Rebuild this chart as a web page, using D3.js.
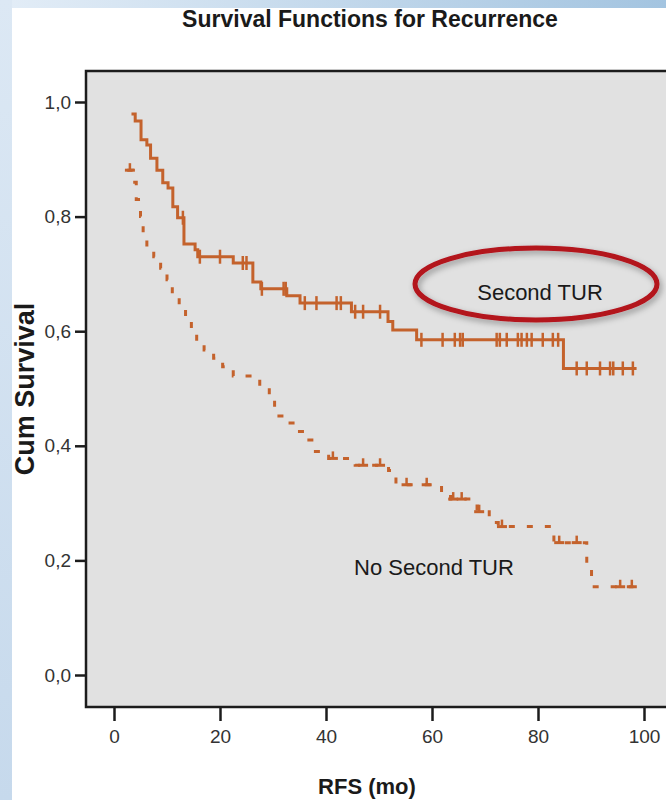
<!DOCTYPE html>
<html>
<head>
<meta charset="utf-8">
<script src="https://cdn.jsdelivr.net/npm/d3@7"></script>
<style>
  body { margin: 0; background: #fff; }
  svg { display: block; font-family: "Liberation Sans", Arial, sans-serif; }
</style>
</head>
<body>
<div class="chart"></div>
<script>
// Second TUR (solid): step times and survival after each step
var secondTurTimes = [3.3, 4.0, 5.1, 6.2, 6.9, 8.1, 9.2, 10.2, 11.1, 12.0, 13.2, 15.3, 15.8, 22.5, 26.2, 27.7, 32.6, 35.1, 44.8, 51.7, 52.6, 57.1, 84.8, 98.6];
var secondTurSurv  = [0.979, 0.967, 0.934, 0.925, 0.902, 0.881, 0.859, 0.850, 0.817, 0.798, 0.752, 0.742, 0.730, 0.719, 0.686, 0.674, 0.662, 0.649, 0.634, 0.617, 0.602, 0.585, 0.535, 0.535];
var secondTurCensored = [13.0, 16.2, 20.0, 24.3, 25.0, 27.9, 32.0, 32.4, 36.0, 38.2, 42.0, 42.8, 45.5, 47.0, 50.2, 58.0, 62.0, 64.3, 65.3, 65.8, 72.2, 72.8, 74.1, 76.2, 76.9, 77.9, 78.8, 80.9, 82.8, 83.8, 87.3, 89.2, 91.7, 93.6, 94.2, 96.0, 97.9];

// No second TUR (dashed)
var noTurTimes = [2.5, 3.5, 4.2, 5.0, 5.5, 6.2, 7.5, 8.8, 10.0, 11.0, 12.3, 13.5, 14.6, 15.6, 17.0, 18.8, 20.5, 22.5, 27.5, 29.3, 30.3, 32.0, 34.5, 36.4, 38.0, 40.5, 45.5, 51.8, 53.2, 61.8, 63.5, 68.5, 70.8, 72.5, 83.0, 89.2, 90.1, 98.0];
var noTurSurv  = [0.881, 0.86, 0.83, 0.80, 0.77, 0.745, 0.73, 0.71, 0.69, 0.665, 0.645, 0.62, 0.60, 0.58, 0.567, 0.553, 0.538, 0.522, 0.503, 0.48, 0.452, 0.44, 0.425, 0.41, 0.39, 0.378, 0.366, 0.357, 0.332, 0.315, 0.307, 0.285, 0.266, 0.259, 0.231, 0.19, 0.154, 0.154];
var noTurCensored = [3.0, 41.3, 47.0, 50.2, 55.2, 59.0, 64.0, 65.6, 68.9, 73.2, 84.0, 87.3, 95.5, 97.7];

var xTicks = [0, 20, 40, 60, 80, 100];
var yTicks = [0, 0.2, 0.4, 0.6, 0.8, 1.0];

(function() {
  var width = 666, height = 800,
    frame = {left: 86, top: 71, right: 690, bottom: 707},
    lineColor = "#c4622c";

  var svg = d3.select(".chart").append("svg")
    .attr("width", width)
    .attr("height", height);

  var defs = svg.append("defs");
  var topGrad = defs.append("linearGradient").attr("id", "topGrad");
  topGrad.append("stop").attr("offset", "0%").attr("stop-color", "#e3edf7");
  topGrad.append("stop").attr("offset", "100%").attr("stop-color", "#a3c4e0");
  var leftGrad = defs.append("linearGradient").attr("id", "leftGrad")
    .attr("x1", 0).attr("y1", 0).attr("x2", 0).attr("y2", 1);
  leftGrad.append("stop").attr("offset", "0%").attr("stop-color", "#dce8f4");
  leftGrad.append("stop").attr("offset", "100%").attr("stop-color", "#c6d9ec");
  var shadow = defs.append("filter").attr("id", "shadow")
    .attr("x", "-20%").attr("y", "-40%").attr("width", "140%").attr("height", "180%");
  shadow.append("feDropShadow").attr("dx", 2).attr("dy", 3)
    .attr("stdDeviation", 3).attr("flood-color", "#000").attr("flood-opacity", 0.35);

  // slide background
  svg.append("rect").attr("width", width).attr("height", 8).attr("fill", "url(#topGrad)");
  svg.append("rect").attr("y", 0).attr("width", 12).attr("height", height).attr("fill", "url(#leftGrad)");

  var x = d3.scaleLinear().domain([0, 100]).range([114, 644]);
  var y = d3.scaleLinear().domain([0, 1]).range([675, 102]);

  // plot area
  svg.append("rect")
    .attr("x", frame.left).attr("y", frame.top)
    .attr("width", frame.right - frame.left).attr("height", frame.bottom - frame.top)
    .attr("fill", "#e1e1e1")
    .attr("stroke", "#1c1c1c")
    .attr("stroke-width", 2.5);

  var fmt = function(d) { return d3.format(".1f")(d).replace(".", ","); };

  var yAxis = svg.append("g")
    .attr("transform", "translate(" + frame.left + ",0)")
    .call(d3.axisLeft(y).tickValues(yTicks).tickFormat(fmt).tickSize(11).tickPadding(4));
  var xAxis = svg.append("g")
    .attr("transform", "translate(0," + frame.bottom + ")")
    .call(d3.axisBottom(x).tickValues(xTicks).tickSize(14).tickPadding(9));
  [xAxis, yAxis].forEach(function(a) {
    a.select(".domain").remove();
    a.selectAll("line").attr("stroke", "#1c1c1c").attr("stroke-width", 2.5);
    a.selectAll("text").attr("fill", "#333").style("font-size", "19px")
      .style("font-family", "'Liberation Sans', Arial, sans-serif");
  });

  // step lines
  function steps(times, surv) {
    return times.map(function(t, i) { return {t: t, s: surv[i]}; });
  }
  function survAt(times, surv, t) {
    var i = d3.bisectRight(times, t) - 1;
    return surv[Math.max(i, 0)];
  }
  var line = d3.line()
    .x(function(d) { return x(d.t); })
    .y(function(d) { return y(d.s); })
    .curve(d3.curveStepAfter);

  var plot = svg.append("g");

  plot.append("path")
    .attr("d", line(steps(secondTurTimes, secondTurSurv)))
    .attr("fill", "none")
    .attr("stroke", lineColor)
    .attr("stroke-width", 3);

  plot.append("g").selectAll("line")
    .data(secondTurCensored)
    .enter().append("line")
      .attr("x1", function(d) { return x(d); })
      .attr("x2", function(d) { return x(d); })
      .attr("y1", function(d) { return y(survAt(secondTurTimes, secondTurSurv, d)) - 7; })
      .attr("y2", function(d) { return y(survAt(secondTurTimes, secondTurSurv, d)) + 7; })
      .attr("stroke", lineColor)
      .attr("stroke-width", 2.5);

  plot.append("path")
    .attr("d", line(steps(noTurTimes, noTurSurv)))
    .attr("fill", "none")
    .attr("stroke", lineColor)
    .attr("stroke-width", 3)
    .attr("stroke-dasharray", "6,12");

  var nc = plot.append("g").selectAll("g")
    .data(noTurCensored)
    .enter().append("g")
      .attr("transform", function(d) {
        return "translate(" + x(d) + "," + y(survAt(noTurTimes, noTurSurv, d)) + ")";
      });
  nc.append("line").attr("y1", -7).attr("y2", 0)
    .attr("stroke", lineColor).attr("stroke-width", 2.5);
  nc.append("line").attr("x1", -5).attr("x2", 5)
    .attr("stroke", lineColor).attr("stroke-width", 3);

  // annotations
  svg.append("ellipse")
    .attr("cx", 536).attr("cy", 284).attr("rx", 121).attr("ry", 36)
    .attr("fill", "none")
    .attr("stroke", "#b3121c")
    .attr("stroke-width", 5)
    .attr("filter", "url(#shadow)");
  svg.append("text")
    .attr("x", 540).attr("y", 300)
    .attr("text-anchor", "middle")
    .style("font-size", "22px").attr("fill", "#1a1a1a")
    .text("Second TUR");
  svg.append("text")
    .attr("x", 434).attr("y", 575)
    .attr("text-anchor", "middle")
    .style("font-size", "22px").attr("fill", "#1a1a1a")
    .text("No Second TUR");

  // titles
  svg.append("text")
    .attr("x", 370).attr("y", 27)
    .attr("text-anchor", "middle")
    .style("font-size", "23px").style("font-weight", "bold").attr("fill", "#1a1a1a")
    .text("Survival Functions for Recurrence");
  svg.append("text")
    .attr("x", 367).attr("y", 794)
    .attr("text-anchor", "middle")
    .style("font-size", "22px").style("font-weight", "bold").attr("fill", "#1a1a1a")
    .text("RFS (mo)");
  svg.append("text")
    .attr("transform", "translate(34,389) rotate(-90)")
    .attr("text-anchor", "middle")
    .style("font-size", "27px").style("font-weight", "bold").attr("fill", "#1a1a1a")
    .text("Cum Survival");
})();
</script>
</body>
</html>
